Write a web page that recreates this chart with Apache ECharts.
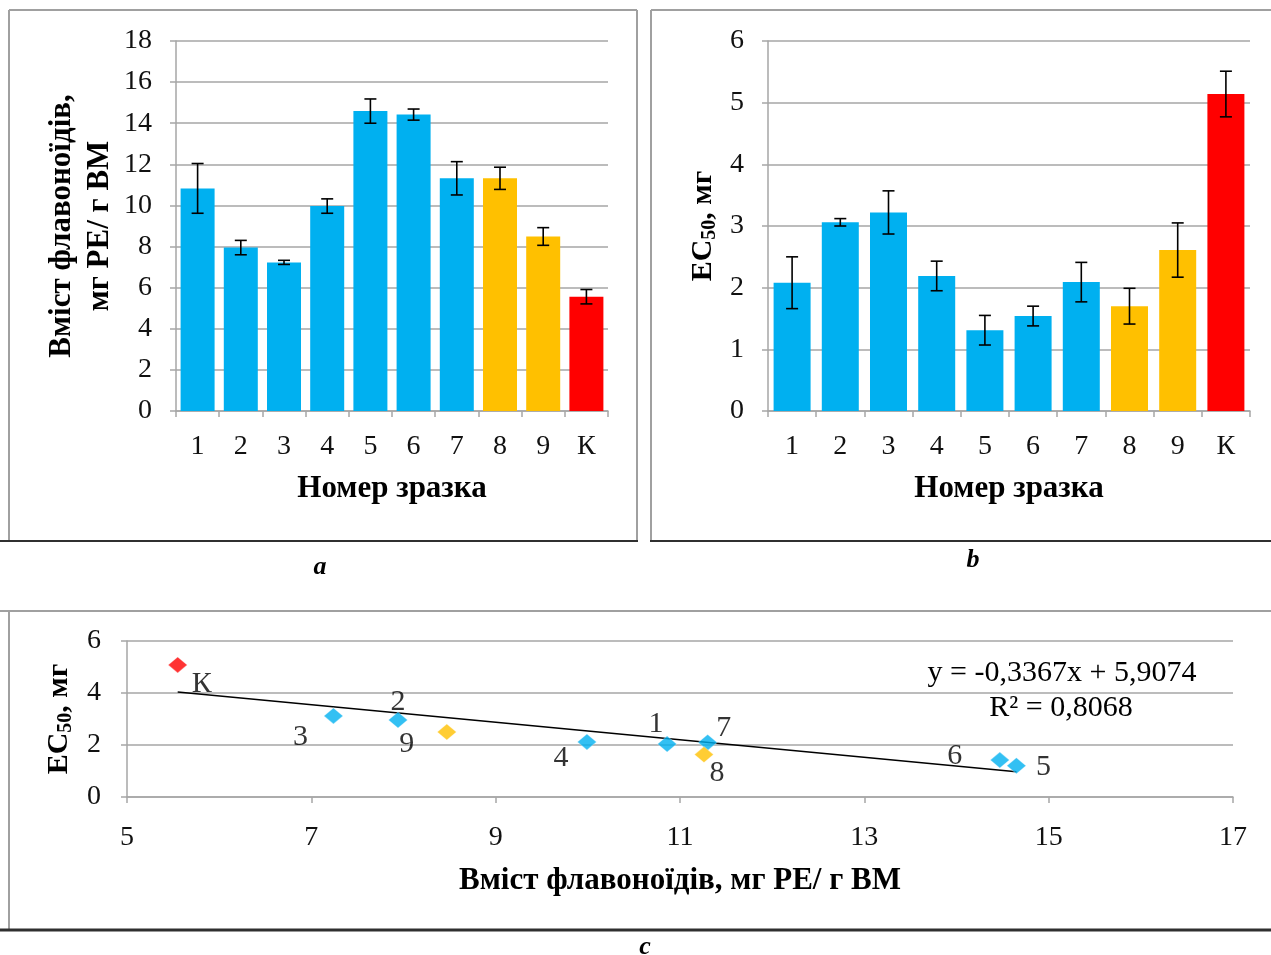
<!DOCTYPE html>
<html>
<head>
<meta charset="utf-8">
<script src="https://cdn.jsdelivr.net/npm/echarts@6/dist/echarts.min.js"></script>
<style>
html,body{margin:0;padding:0;background:#fff;}
#chart{width:1271px;height:955px;}
</style>
</head>
<body>
<div id="chart"></div>
<script>
// ---- data ----
const categories = ['1', '2', '3', '4', '5', '6', '7', '8', '9', 'К'];
const flavonoids = [10.83, 7.95, 7.23, 9.97, 14.59, 14.42, 11.32, 11.32, 8.49, 5.56];
const flavonoidsErr = [1.21, 0.35, 0.10, 0.35, 0.59, 0.27, 0.81, 0.54, 0.43, 0.35];
const ec50 = [2.08, 3.06, 3.22, 2.19, 1.31, 1.54, 2.09, 1.70, 2.61, 5.14];
const ec50Err = [0.42, 0.06, 0.35, 0.24, 0.24, 0.16, 0.32, 0.29, 0.44, 0.37];
const scatterX = [10.86, 7.94, 7.24, 9.99, 14.65, 14.47, 11.30, 11.26, 8.47, 5.55];
const scatterY = [2.04, 2.96, 3.12, 2.12, 1.20, 1.42, 2.10, 1.63, 2.50, 5.08];
const trendSlope = -0.3367;
const trendIntercept = 5.9074;
const trendR2 = '0,8068';
const ticksA = [0, 18, 2];
const ticksB = [0, 6, 1];
const ticksCx = [5, 17, 2];
const ticksCy = [0, 6, 2];

// ---- styles ----
const BLUE = '#00b0f0', ORANGE = '#ffc000', RED = '#ff0000';
const barColors = [BLUE, BLUE, BLUE, BLUE, BLUE, BLUE, BLUE, ORANGE, ORANGE, RED];
const FONT = '"Liberation Serif", "Times New Roman", serif';
const GRID_COLOR = '#a6a6a6';
const labelOffsets = {
  '1': [-11, -20], '2': [0, -18], '3': [-33, 21], '4': [-26, 16], '5': [27, 1],
  '6': [-45, -4], '7': [16, -14], '8': [13, 19], '9': [-40, 12], 'К': [24, 19]
};

const chart = echarts.init(document.getElementById('chart'), null, {renderer: 'canvas'});

function axisLineStyle() { return {show: true, lineStyle: {color: GRID_COLOR, width: 1.5}}; }
function tickStyle() { return {show: true, length: 6, lineStyle: {color: GRID_COLOR, width: 1.5}}; }
function splitStyle() { return {show: true, lineStyle: {color: GRID_COLOR, width: 1.5}}; }
const labelFont = {fontFamily: FONT, fontSize: 28, color: '#111'};
const nameFont = {fontFamily: FONT, fontSize: 31, fontWeight: 'bold', color: '#000'};
const ecRich = {
  rich: {
    m: {fontFamily: FONT, fontSize: 30, fontWeight: 'bold', color: '#000'},
    sub: {fontFamily: FONT, fontSize: 20, fontWeight: 'bold', color: '#000', padding: [14, 0, 0, 0]}
  }
};

function errRender(params, api) {
  const x = api.value(0), v = api.value(1), e = api.value(2);
  const top = api.coord([x, v + e]);
  const bot = api.coord([x, v - e]);
  const cw = 6;
  const style = {stroke: '#000', lineWidth: 1.6};
  return {
    type: 'group',
    children: [
      {type: 'line', shape: {x1: top[0], y1: top[1], x2: bot[0], y2: bot[1]}, style: style},
      {type: 'line', shape: {x1: top[0] - cw, y1: top[1], x2: top[0] + cw, y2: top[1]}, style: style},
      {type: 'line', shape: {x1: bot[0] - cw, y1: bot[1], x2: bot[0] + cw, y2: bot[1]}, style: style}
    ]
  };
}

const xMinT = Math.min.apply(null, scatterX);
const xMaxT = Math.max.apply(null, scatterX);

const option = {
  animation: false,
  backgroundColor: '#fff',
  grid: [
    {left: 176, top: 41, width: 432, height: 370},
    {left: 768, top: 41, width: 482, height: 370},
    {left: 127, top: 641, width: 1106, height: 156}
  ],
  xAxis: [
    {
      type: 'category', gridIndex: 0, data: categories,
      axisLine: axisLineStyle(), axisTick: tickStyle(),
      axisLabel: Object.assign({margin: 22}, labelFont),
      name: 'Номер зразка', nameLocation: 'middle', nameGap: 62, nameTextStyle: nameFont
    },
    {
      type: 'category', gridIndex: 1, data: categories,
      axisLine: axisLineStyle(), axisTick: tickStyle(),
      axisLabel: Object.assign({margin: 22}, labelFont),
      name: 'Номер зразка', nameLocation: 'middle', nameGap: 62, nameTextStyle: nameFont
    },
    {
      type: 'value', gridIndex: 2, min: ticksCx[0], max: ticksCx[1], interval: ticksCx[2],
      axisLine: axisLineStyle(), axisTick: tickStyle(), splitLine: {show: false},
      axisLabel: Object.assign({margin: 27}, labelFont),
      name: 'Вміст флавоноїдів, мг РЕ/ г ВМ', nameLocation: 'middle', nameGap: 68, nameTextStyle: nameFont
    }
  ],
  yAxis: [
    {
      type: 'value', gridIndex: 0, min: ticksA[0], max: ticksA[1], interval: ticksA[2],
      axisLine: axisLineStyle(), axisTick: tickStyle(), splitLine: splitStyle(),
      axisLabel: Object.assign({margin: 24}, labelFont),
      name: 'Вміст флавоноїдів,\nмг РЕ/ г ВМ', nameLocation: 'middle', nameGap: 57,
      nameTextStyle: Object.assign({lineHeight: 38}, nameFont)
    },
    {
      type: 'value', gridIndex: 1, min: ticksB[0], max: ticksB[1], interval: ticksB[2],
      axisLine: axisLineStyle(), axisTick: tickStyle(), splitLine: splitStyle(),
      axisLabel: Object.assign({margin: 24}, labelFont),
      name: '{m|EC}{sub|50}{m|, мг}', nameLocation: 'middle', nameGap: 48,
      nameTextStyle: Object.assign({}, nameFont, ecRich)
    },
    {
      type: 'value', gridIndex: 2, min: ticksCy[0], max: ticksCy[1], interval: ticksCy[2],
      axisLine: axisLineStyle(), axisTick: tickStyle(), splitLine: splitStyle(),
      axisLabel: Object.assign({margin: 26}, labelFont),
      name: '{m|EC}{sub|50}{m|, мг}', nameLocation: 'middle', nameGap: 48,
      nameTextStyle: Object.assign({}, nameFont, ecRich)
    }
  ],
  series: [
    {
      type: 'bar', xAxisIndex: 0, yAxisIndex: 0, barWidth: 34,
      data: flavonoids.map((v, i) => ({value: v, itemStyle: {color: barColors[i]}}))
    },
    {
      type: 'custom', xAxisIndex: 0, yAxisIndex: 0, z: 10,
      renderItem: errRender, encode: {x: 0, y: 1},
      data: flavonoids.map((v, i) => [i, v, flavonoidsErr[i]])
    },
    {
      type: 'bar', xAxisIndex: 1, yAxisIndex: 1, barWidth: 37,
      data: ec50.map((v, i) => ({value: v, itemStyle: {color: barColors[i]}}))
    },
    {
      type: 'custom', xAxisIndex: 1, yAxisIndex: 1, z: 10,
      renderItem: errRender, encode: {x: 0, y: 1},
      data: ec50.map((v, i) => [i, v, ec50Err[i]])
    },
    {
      type: 'line', xAxisIndex: 2, yAxisIndex: 2, z: 3,
      symbol: 'none', lineStyle: {color: '#000', width: 1.5},
      data: [[xMinT, trendSlope * xMinT + trendIntercept], [xMaxT, trendSlope * xMaxT + trendIntercept]]
    },
    {
      type: 'scatter', xAxisIndex: 2, yAxisIndex: 2, z: 4,
      symbol: 'diamond', symbolSize: [19, 16],
      data: categories.map((c, i) => ({
        value: [scatterX[i], scatterY[i]],
        name: c,
        itemStyle: {color: barColors[i], borderColor: 'rgba(255,255,255,0.35)', borderWidth: 1},
        label: {
          show: true, position: 'inside', offset: labelOffsets[c],
          formatter: c, fontFamily: FONT, fontSize: 30, color: '#000'
        }
      }))
    }
  ],
  graphic: [
    // panel a border
    {type: 'line', shape: {x1: 9, y1: 10, x2: 637, y2: 10}, style: {stroke: '#a0a0a0', lineWidth: 2}},
    {type: 'line', shape: {x1: 9, y1: 10, x2: 9, y2: 541}, style: {stroke: '#a0a0a0', lineWidth: 2}},
    {type: 'line', shape: {x1: 637, y1: 10, x2: 637, y2: 541}, style: {stroke: '#a0a0a0', lineWidth: 2}},
    {type: 'line', shape: {x1: 0, y1: 541, x2: 638, y2: 541}, style: {stroke: '#303030', lineWidth: 2}},
    // panel b border
    {type: 'line', shape: {x1: 651, y1: 10, x2: 1271, y2: 10}, style: {stroke: '#a0a0a0', lineWidth: 2}},
    {type: 'line', shape: {x1: 651, y1: 10, x2: 651, y2: 541}, style: {stroke: '#a0a0a0', lineWidth: 2}},
    {type: 'line', shape: {x1: 650, y1: 541, x2: 1271, y2: 541}, style: {stroke: '#303030', lineWidth: 2}},
    // panel c border
    {type: 'line', shape: {x1: 0, y1: 611, x2: 1271, y2: 611}, style: {stroke: '#a0a0a0', lineWidth: 2}},
    {type: 'line', shape: {x1: 9, y1: 611, x2: 9, y2: 930}, style: {stroke: '#a0a0a0', lineWidth: 2}},
    {type: 'line', shape: {x1: 0, y1: 930, x2: 1271, y2: 930}, style: {stroke: '#303030', lineWidth: 3}},
    // panel letters
    {type: 'text', x: 320, y: 567, style: {text: 'a', font: 'italic bold 26px ' + FONT, fill: '#000', align: 'center', verticalAlign: 'middle'}},
    {type: 'text', x: 973, y: 560, style: {text: 'b', font: 'italic bold 26px ' + FONT, fill: '#000', align: 'center', verticalAlign: 'middle'}},
    {type: 'text', x: 645, y: 947, style: {text: 'c', font: 'italic bold 26px ' + FONT, fill: '#000', align: 'center', verticalAlign: 'middle'}},
    // trendline equation
    {type: 'text', x: 1062, y: 673, style: {text: 'y = ' + String(trendSlope).replace('.', ',') + 'x + ' + String(trendIntercept).replace('.', ','), font: '30px ' + FONT, fill: '#000', align: 'center', verticalAlign: 'middle'}},
    {type: 'text', x: 1061, y: 708, style: {text: 'R² = ' + trendR2, font: '30px ' + FONT, fill: '#000', align: 'center', verticalAlign: 'middle'}}
  ]
};

chart.setOption(option);
</script>
</body>
</html>
